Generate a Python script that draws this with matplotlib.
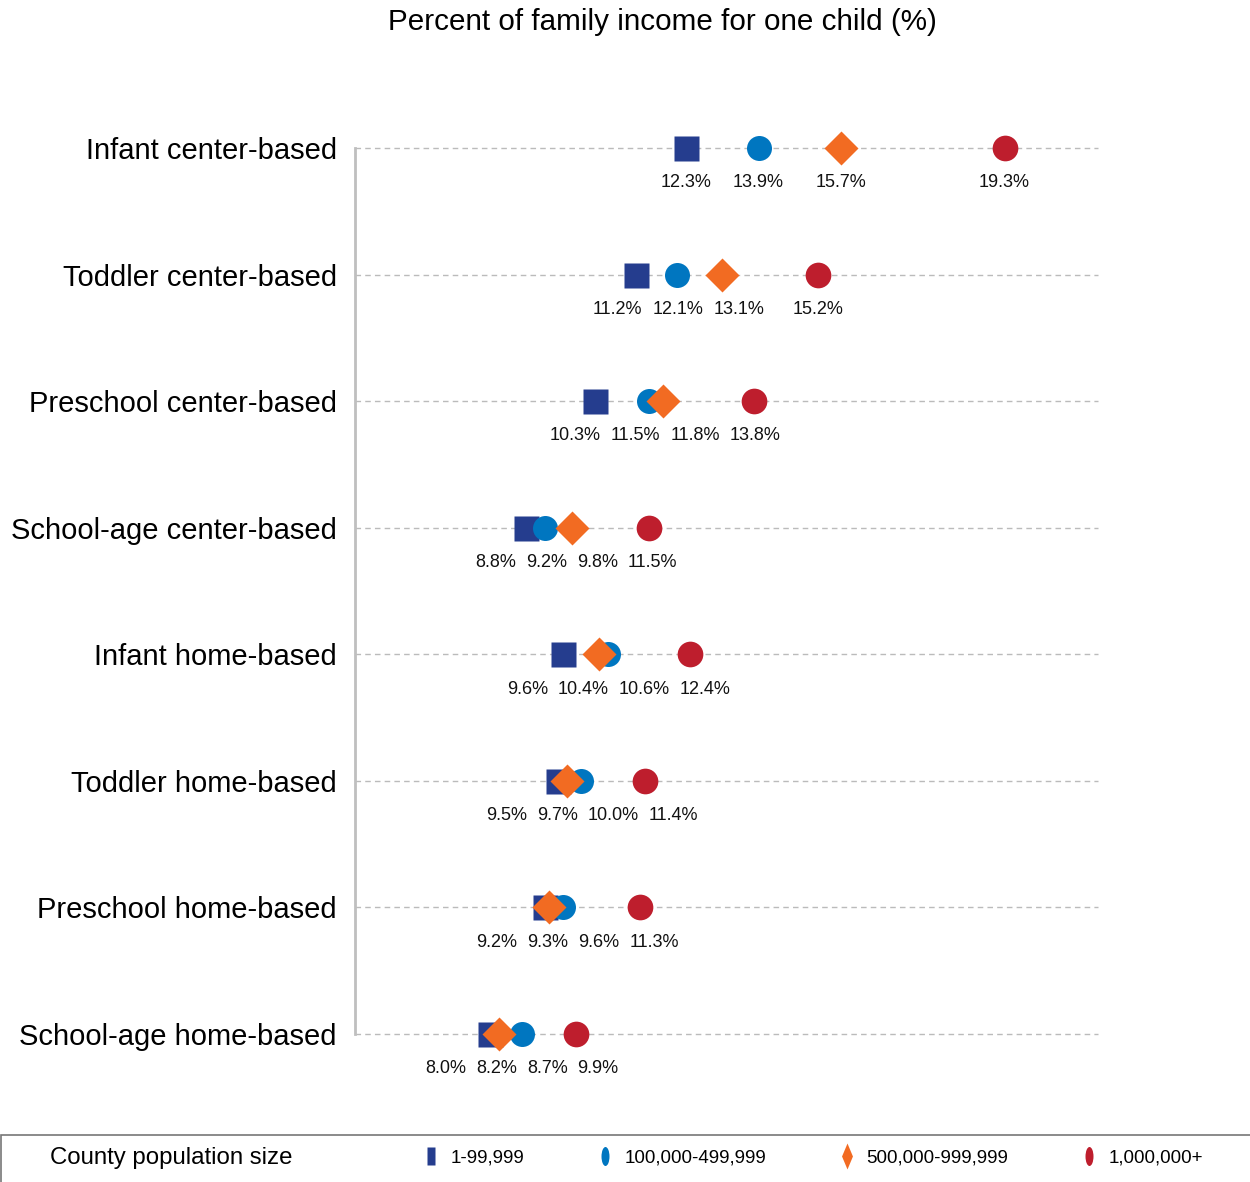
import matplotlib
matplotlib.use("Agg")
import matplotlib.pyplot as plt
import numpy as np
from matplotlib import font_manager
from matplotlib.path import Path
from matplotlib.lines import Line2D
from matplotlib.patches import Rectangle

# ---------------- data ----------------
categories = ["Infant center-based", "Toddler center-based", "Preschool center-based",
              "School-age center-based", "Infant home-based", "Toddler home-based",
              "Preschool home-based", "School-age home-based"]
series_names = ["1-99,999", "100,000-499,999", "500,000-999,999", "1,000,000+"]
pop_small = [12.3, 11.2, 10.3, 8.8, 9.6, 9.5, 9.2, 8.0]
pop_mid = [13.9, 12.1, 11.5, 9.2, 10.6, 10.0, 9.6, 8.7]
pop_large = [15.7, 13.1, 11.8, 9.8, 10.4, 9.7, 9.3, 8.2]
pop_largest = [19.3, 15.2, 13.8, 11.5, 12.4, 11.4, 11.3, 9.9]
title = "Percent of family income for one child (%)"
legend_title = "County population size"

series = [pop_small, pop_mid, pop_large, pop_largest]
colors = ["#253D8E", "#0076C0", "#F26B22", "#BE1E2D"]
markers = ["s", "o", "D", "o"]
msizes = [18, 18, 17.5, 18.5]

names = {f.name for f in font_manager.fontManager.ttflist}
base_font = "Liberation Sans" if "Liberation Sans" in names else "DejaVu Sans"
narrow_font = "Liberation Sans Narrow" if "Liberation Sans Narrow" in names else None
plt.rcParams["font.family"] = [base_font, "DejaVu Sans"]

W, H = 1250, 1182
fig = plt.figure(figsize=(W / 100, H / 100), dpi=100)
ax_left, ax_right = 355 / W, 1098 / W
ax_top, ax_bot = 1 - 148 / H, 1 - 1034 / H
ax = fig.add_axes([ax_left, ax_bot, ax_right - ax_left, ax_top - ax_bot])

n = len(categories)
ypos = np.arange(n)
ax.set_xlim(5.04, 21.35)
ax.set_ylim(n - 1, 0)

for y in ypos:
    ax.axhline(y, color="#BBBBBB", lw=1.0, ls=(0, (4, 3)), zorder=1, clip_on=False)

for k, (vals, c, m, ms) in enumerate(zip(series, colors, markers, msizes)):
    ax.plot(vals, ypos, ls="none", marker=m, ms=ms, color=c, mec="none",
            zorder=3 + k, clip_on=False, label=series_names[k])

for s in ["top", "right", "bottom"]:
    ax.spines[s].set_visible(False)
ax.spines["left"].set_color("#BFBFBF")
ax.spines["left"].set_linewidth(2.0)
ax.set_xticks([])
ax.set_yticks(ypos)
ax.set_yticklabels(categories, fontsize=21)
ax.tick_params(axis="y", length=0, pad=13)

# ---------------- value labels with simple spreading ----------------
renderer = fig.canvas.get_renderer()
label_fs = 13
pad_px = 10.0


def spread(xs, ws):
    order = list(np.argsort(xs))
    groups = [[i] for i in order]

    def layout(g):
        offs = [0.0]
        for a, b in zip(g[:-1], g[1:]):
            offs.append(offs[-1] + (ws[a] + ws[b]) / 2 + pad_px)
        start = np.mean([xs[i] for i in g]) - np.mean(offs)
        return [start + o for o in offs]

    changed = True
    while changed:
        changed = False
        pos = [layout(g) for g in groups]
        for gi in range(len(groups) - 1):
            a, b = groups[gi][-1], groups[gi + 1][0]
            if pos[gi + 1][0] - pos[gi][-1] < (ws[a] + ws[b]) / 2 + pad_px - 1e-6:
                groups[gi] = groups[gi] + groups[gi + 1]
                del groups[gi + 1]
                changed = True
                break
    result = {}
    for g in groups:
        for i, p in zip(g, layout(g)):
            result[i] = p
    return [result[i] for i in range(len(xs))]


for r, y in enumerate(ypos):
    vals = [s[r] for s in series]
    texts = [f"{v:.1f}%" for v in vals]
    xs_px = [ax.transData.transform((v, y))[0] for v in vals]
    ws = []
    for t in texts:
        tt = fig.text(0, 0, t, fontsize=label_fs)
        ws.append(tt.get_window_extent(renderer).width)
        tt.remove()
    new_px = spread(xs_px, ws)
    for t, px in zip(texts, new_px):
        xd = ax.transData.inverted().transform((px, ax.transData.transform((0, y))[1]))[0]
        ax.annotate(t, xy=(xd, y), xytext=(0, -25), textcoords="offset points",
                    ha="center", va="center", fontsize=label_fs, color="#111111",
                    annotation_clip=False)

# ---------------- title ----------------
fig.text(662 / W, 1 - 22 / H, title, ha="center", va="center", fontsize=21.3)

# ---------------- legend strip ----------------
strip_top = 1 - 1135 / H
fig.patches.append(Rectangle((0.0006, -0.05), 1.2, strip_top + 0.05, transform=fig.transFigure,
                             fill=False, edgecolor="#777777", lw=1.2))
fig.text(50 / W, 1 - 1158 / H, legend_title, ha="left", va="center", fontsize=17.3)


def rect_path(w):
    return Path([(-w, -0.5), (w, -0.5), (w, 0.5), (-w, 0.5), (-w, -0.5)],
                [Path.MOVETO, Path.LINETO, Path.LINETO, Path.LINETO, Path.CLOSEPOLY])


def ellipse_path(w):
    c = Path.unit_circle()
    return Path(c.vertices * np.array([w, 0.5]), c.codes)


def diamond_path(w):
    return Path([(0, -0.5), (w, 0), (0, 0.5), (-w, 0), (0, -0.5)],
                [Path.MOVETO, Path.LINETO, Path.LINETO, Path.LINETO, Path.CLOSEPOLY])


leg_markers = [rect_path(0.22), ellipse_path(0.21), diamond_path(0.21), ellipse_path(0.21)]
leg_ms = [13, 13.7, 18.7, 13.7]
handles = [Line2D([], [], ls="none", marker=m, ms=s, color=c, mec="none")
           for m, s, c in zip(leg_markers, leg_ms, colors)]
leg_font = {"family": [narrow_font, "DejaVu Sans"] if narrow_font else [base_font, "DejaVu Sans"],
            "size": 16 if narrow_font else 13.5}
leg = fig.legend(handles, series_names, loc="center left",
                 bbox_to_anchor=(423 / W, 1 - 1158 / H), ncol=4, frameon=False,
                 prop=leg_font, handlelength=0.8, handletextpad=0.65,
                 columnspacing=3.9, borderpad=0, borderaxespad=0)

fig.savefig("out.png", dpi=100)
